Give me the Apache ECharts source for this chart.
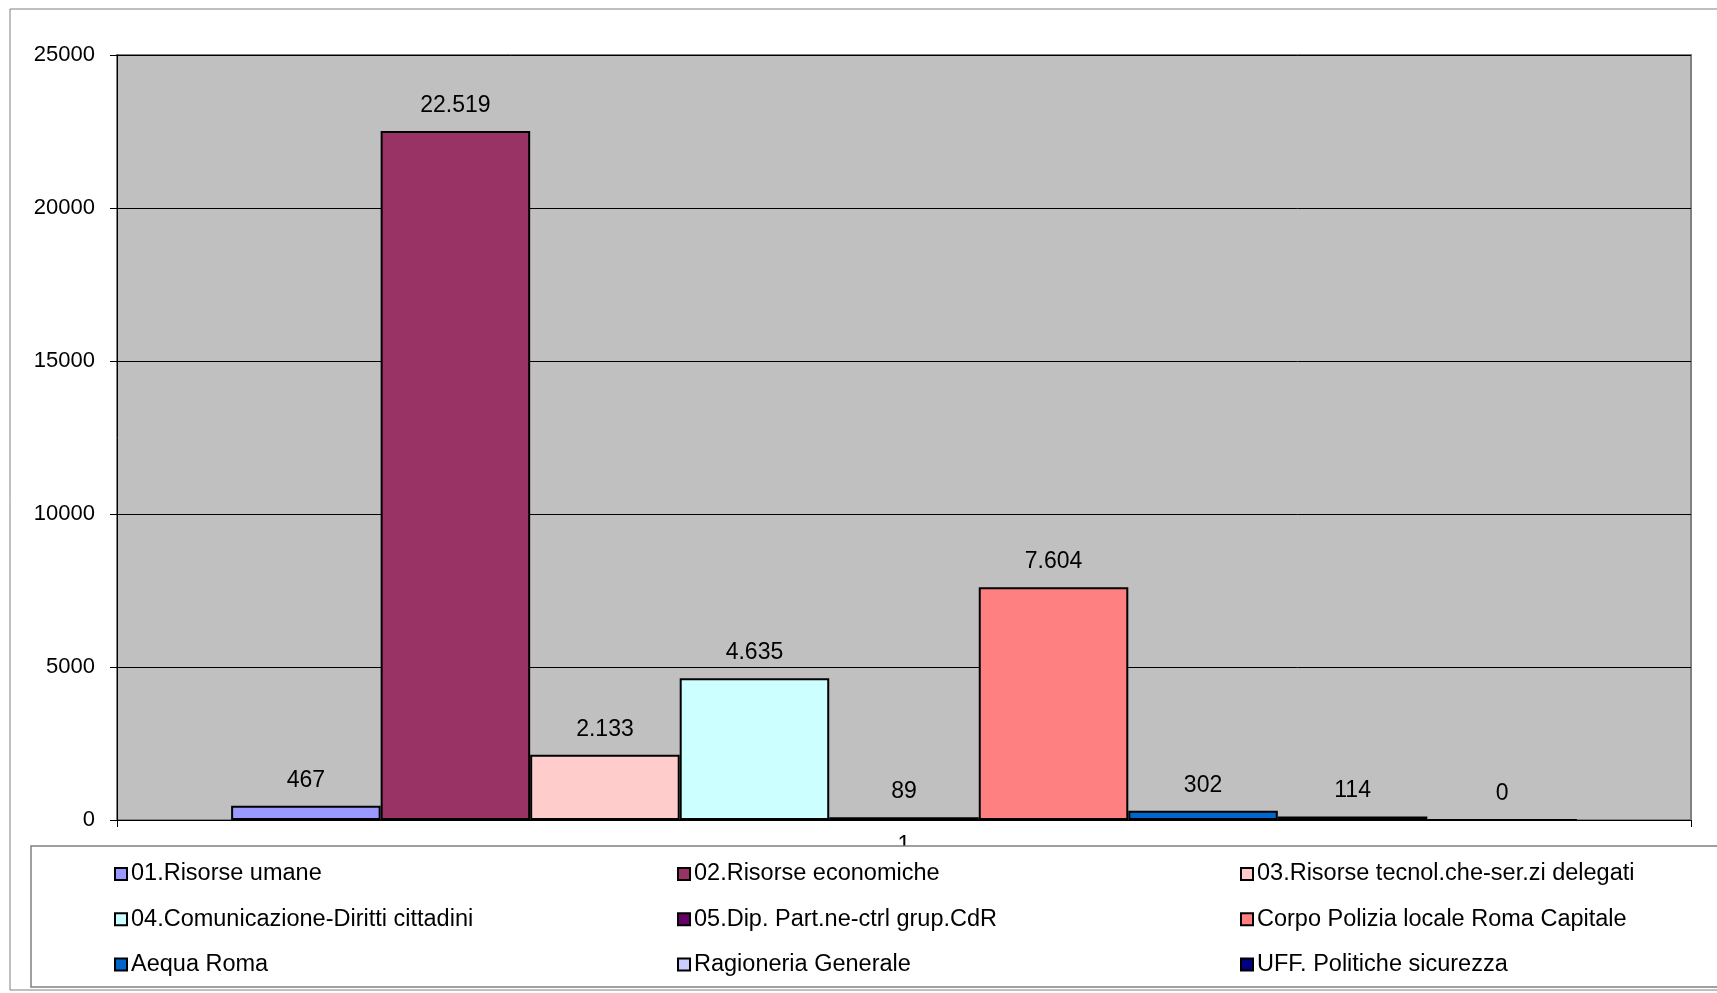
<!DOCTYPE html>
<html>
<head>
<meta charset="utf-8">
<script src="https://cdn.jsdelivr.net/npm/echarts@6/dist/echarts.min.js"></script>
<style>
  html, body { margin: 0; padding: 0; background: #fff; }
  #chart { width: 1717px; height: 993px; }
</style>
</head>
<body>
<div id="chart"></div>
<script>
// Single category, one bar per office
const categories = ['1'];
const seriesNames = [
  '01.Risorse umane',
  '02.Risorse economiche',
  '03.Risorse tecnol.che-ser.zi delegati',
  '04.Comunicazione-Diritti cittadini',
  '05.Dip. Part.ne-ctrl grup.CdR',
  'Corpo Polizia locale Roma Capitale',
  'Aequa Roma',
  'Ragioneria Generale',
  'UFF. Politiche sicurezza'
];
const seriesValues = [467, 22519, 2133, 4635, 89, 7604, 302, 114, 0];
const seriesColors = ['#9999FF', '#993366', '#FFCCCC', '#CCFFFF', '#660066', '#FF8080', '#0066CC', '#CCCCFF', '#000080'];
const yTicks = { min: 0, max: 25000, interval: 5000 };

const FONT = 'Liberation Sans, Arial, sans-serif';
const FONT_SIZE = 23;

// Italian thousands separator
function fmt(v) {
  return String(v).replace(/\B(?=(\d{3})+(?!\d))/g, '.');
}

const chart = echarts.init(document.getElementById('chart'));

const series = seriesNames.map((name, i) => ({
  name: name,
  type: 'bar',
  data: [seriesValues[i]],
  barGap: '0%',
  barCategoryGap: '14.5%',
  itemStyle: { color: seriesColors[i], borderColor: '#000', borderWidth: 2 },
  label: {
    show: true,
    position: 'top',
    distance: 14,
    color: '#000',
    fontFamily: FONT,
    fontSize: FONT_SIZE,
    formatter: p => fmt(p.value)
  }
}));

// Legend laid out in three fixed columns
const legends = seriesNames.map((name, i) => ({
  data: [name],
  left: 109 + (i % 3) * 563,
  top: 857 + Math.floor(i / 3) * 45.3,
  orient: 'horizontal',
  itemWidth: 12,
  itemHeight: 12,
  itemGap: 0,
  icon: 'rect',
  z: 20,
  selectedMode: false,
  itemStyle: { borderColor: '#000', borderWidth: 2 },
  textStyle: { color: '#000', fontFamily: FONT, fontSize: 23.5, padding: [0, 0, 0, -1] }
}));

chart.setOption({
  animation: false,
  backgroundColor: '#fff',
  grid: {
    left: 117, right: 26, top: 55, bottom: 173,
    show: true,
    backgroundColor: '#C0C0C0',
    borderColor: '#808080',
    borderWidth: 2
  },
  xAxis: {
    type: 'category',
    data: categories,
    axisLine: { lineStyle: { color: '#000', width: 1 } },
    axisTick: { show: true, length: 7, lineStyle: { color: '#000' } },
    axisLabel: { color: '#000', fontFamily: FONT, fontSize: FONT_SIZE, margin: 14 }
  },
  yAxis: {
    type: 'value',
    min: yTicks.min,
    max: yTicks.max,
    interval: yTicks.interval,
    axisLine: { show: true, lineStyle: { color: '#000', width: 1 } },
    axisTick: { show: true, length: 7, lineStyle: { color: '#000' } },
    splitLine: { lineStyle: { color: '#000', width: 1 } },
    axisLabel: {
      color: '#000', fontFamily: FONT, fontSize: 22, margin: 22,
      formatter: v => String(v)
    }
  },
  legend: legends,
  series: series,
  graphic: [
    {
      type: 'rect',
      z: -10,
      silent: true,
      shape: { x: 10, y: 9, width: 1720, height: 981 },
      style: { fill: 'none', stroke: '#808080', lineWidth: 1 }
    },
    {
      type: 'rect',
      z: 10,
      silent: true,
      shape: { x: 31, y: 846, width: 1700, height: 141 },
      style: { fill: '#fff', stroke: '#808080', lineWidth: 1.5 }
    }
  ]
});
</script>
</body>
</html>
